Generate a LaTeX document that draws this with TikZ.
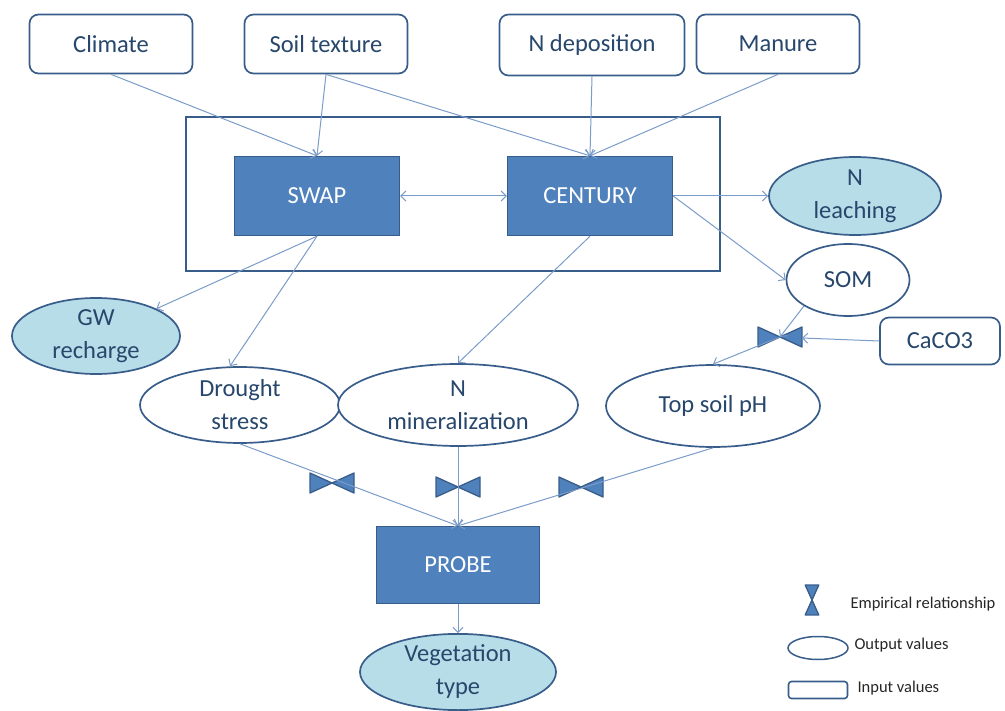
\documentclass[tikz,border=0pt]{standalone}
\usepackage{fontspec}
\setmainfont{Carlito}
\usetikzlibrary{arrows.meta,shapes.geometric}
\definecolor{boxblue}{HTML}{4F81BD}
\definecolor{edgeblue}{HTML}{385D8A}
\definecolor{lightaqua}{HTML}{B7DDE8}
\definecolor{linkblue}{HTML}{7B9CC9}
\definecolor{inkblue}{HTML}{27476C}
\tikzset{
  tie/.style={draw=edgeblue, fill=boxblue, line width=1.3pt, line join=round},
  bowtie/.pic={\path[tie] (-22,-10) -- (0,0) -- (-22,10) -- cycle (22,-10) -- (0,0) -- (22,10) -- cycle;}
}

\begin{document}
\begin{tikzpicture}[x=1pt, y=-1pt,
    every node/.style={font=\fontsize{24.5}{33}\selectfont, text=inkblue, align=center},
    input/.style={draw=edgeblue, line width=1.7pt, rounded corners=9pt, fill=white, minimum width=163pt, minimum height=59pt},
    model/.style={draw=edgeblue, line width=1.4pt, fill=boxblue, text=white, minimum width=165pt, minimum height=79pt},
    output/.style={ellipse, draw=edgeblue, line width=1.7pt, fill=white, inner sep=0pt},
    result/.style={output, fill=lightaqua},
    conn/.style={draw=linkblue, line width=1pt},
    legend/.style={font=\fontsize{16.5}{20}\selectfont, text=black!85, anchor=west},
    >={Straight Barb[length=5pt,width=10pt]}]
        \useasboundingbox (0,0) rectangle (1005,711);
        % inputs
        \node[input] (climate) at (111,44) {Climate};
        \node[input] (soil) at (326,44) {Soil texture};
        \node[input, minimum width=185pt, minimum height=61pt] (ndep) at (592,45) {N deposition};
        \node[input] (manure) at (778,44) {Manure};
        \node[input, minimum width=120pt, minimum height=47pt] (caco) at (940,341) {CaCO3};
        % models
        \node[draw=edgeblue, line width=1.7pt, minimum width=534pt, minimum height=154pt] (frame) at (453,194) {};
        \node[model] (swap) at (317,196) {SWAP};
        \node[model] (century) at (590,196) {CENTURY};
        \node[model, minimum width=163pt, minimum height=77pt] (probe) at (458,565) {PROBE};
        % outputs
        \node[result, minimum width=172pt, minimum height=78pt] (leach) at (855,196) {N\\leaching};
        \node[output, minimum width=123pt, minimum height=72pt] (som) at (848,280) {SOM};
        \node[result, minimum width=168pt, minimum height=76pt] (gw) at (96,336) {GW\\recharge};
        \node[output, minimum width=200pt, minimum height=76pt] (drought) at (240,405) {Drought\\stress};
        \node[output, minimum width=240pt, minimum height=82pt] (nmin) at (458,405) {N\\mineralization};
        \node[output, minimum width=214pt, minimum height=82pt] (ph) at (713,406) {Top soil pH};
        \node[result, minimum width=196pt, minimum height=76pt] (veg) at (458,672) {Vegetation\\type};
        % empirical relationships
        \coordinate (e1) at (332,483);
        \coordinate (e2) at (458,487);
        \coordinate (e3) at (581,487);
        \coordinate (e4) at (780,337);
        \coordinate (e4r) at (802,338);
        \foreach \e in {e1,e2,e3,e4} \pic at (\e) {bowtie};
        \draw[conn,->] (climate.south) -- (swap.north);
        \draw[conn,->] (soil.south) -- (swap.north);
        \draw[conn,->] (soil.south) -- (century.north);
        \draw[conn,->] (ndep.south) -- (century.north);
        \draw[conn,->] (manure.south) -- (century.north);
        \draw[conn,<->] (swap.east) -- (century.west);
        \draw[conn,->] (century.east) -- (leach.west);
        \draw[conn,->] (century.east) -- (som.west);
        \draw[conn,->] (swap.south) -- (gw);
        \draw[conn,->] (swap.south) -- ([xshift=-10pt]drought.north);
        \draw[conn,->] (century.south) -- (nmin.north);
        \draw[conn,->] (som.south west) -- (e4);
        \draw[conn,->] (caco.west) -- (e4r);
        \draw[conn,->] (e4) -- (ph.north);
        \draw[conn,->] (drought.south) -- (probe.north);
        \draw[conn,->] (nmin.south) -- (probe.north);
        \draw[conn,->] (ph.south) -- (probe.north);
        \draw[conn,->] (probe.south) -- (veg.north);
        % legend
        \pic[rotate=90, scale=0.68] at (812,600) {bowtie};
        \node[output, line width=1.5pt, minimum width=60pt, minimum height=23pt] (legout) at (818,648) {};
        \node[input, line width=1.6pt, rounded corners=3pt, minimum width=59pt, minimum height=17pt] (legin) at (818,690) {};
        \node[legend] (legtie) at (847,604) {Empirical relationship};
        \node[legend] (legouttext) at (851,645) {Output values};
        \node[legend] (legintext) at (854,688) {Input values};
\end{tikzpicture}
\end{document}
